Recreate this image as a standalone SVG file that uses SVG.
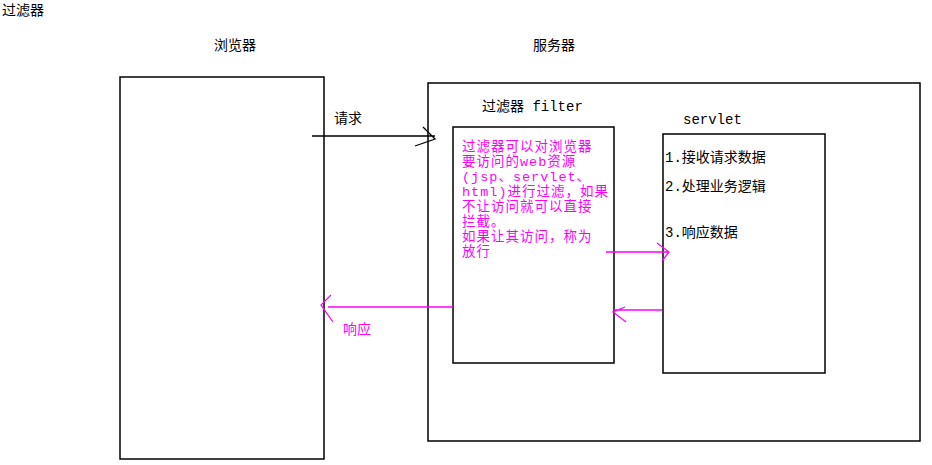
<svg xmlns="http://www.w3.org/2000/svg" width="932" height="465" viewBox="0 0 932 465">
<style>
.box{fill:none;stroke:#000;stroke-width:1.5}
.t{font-family:"Liberation Mono","Noto Sans CJK SC",monospace;font-size:14px;fill:#000}
.m{fill:#ff00ff}
.ft{font-family:"Liberation Mono","Noto Sans CJK SC",monospace;font-size:13.5px;fill:#ff00ff;letter-spacing:1px}
.k{stroke:#000;stroke-width:1.3;fill:none}
.p{stroke:#ff00ff;stroke-width:1.3;fill:none}
</style>
<rect width="932" height="465" fill="#fff"/>
<text class="t" x="2" y="15">过滤器</text>
<g id="browser">
<rect class="box" x="120" y="77" width="204" height="382"/>
<text class="t" x="214" y="50">浏览器</text>
</g>
<g id="server">
<rect class="box" x="428" y="83" width="492" height="358"/>
<text class="t" x="533" y="50">服务器</text>
</g>
<g id="filter">
<text class="t" x="482" y="111">过滤器 filter</text>
<rect class="box" x="453" y="127" width="161" height="236"/>
<text class="ft" x="462" y="151">过滤器可以对浏览器</text>
<text class="ft" x="462" y="166">要访问的web资源</text>
<text class="ft" x="462" y="181">(jsp、servlet、</text>
<text class="ft" x="462" y="196">html)进行过滤，如果</text>
<text class="ft" x="462" y="211">不让访问就可以直接</text>
<text class="ft" x="462" y="226">拦截。</text>
<text class="ft" x="462" y="241">如果让其访问，称为</text>
<text class="ft" x="462" y="256">放行</text>
</g>
<g id="servlet">
<text class="t" x="683" y="124">servlet</text>
<rect class="box" x="663" y="134" width="162" height="239"/>
<text class="t" x="665" y="162">1.接收请求数据</text>
<text class="t" x="665" y="191">2.处理业务逻辑</text>
<text class="t" x="665" y="237">3.响应数据</text>
</g>
<g id="connectors">
<path class="k" d="M312 136H435M423 127L435 139L415 146"/>
<text class="t" x="334" y="123">请求</text>
<path class="p" d="M453 307H328M331 295L321 305L333 322"/>
<text class="t m" x="343" y="334">响应</text>
<path class="p" d="M606 252H668M657 243L669 252L662 261"/>
<path class="p" d="M662 310H614M625 307L613 312L626 322"/>
</g>
</svg>
